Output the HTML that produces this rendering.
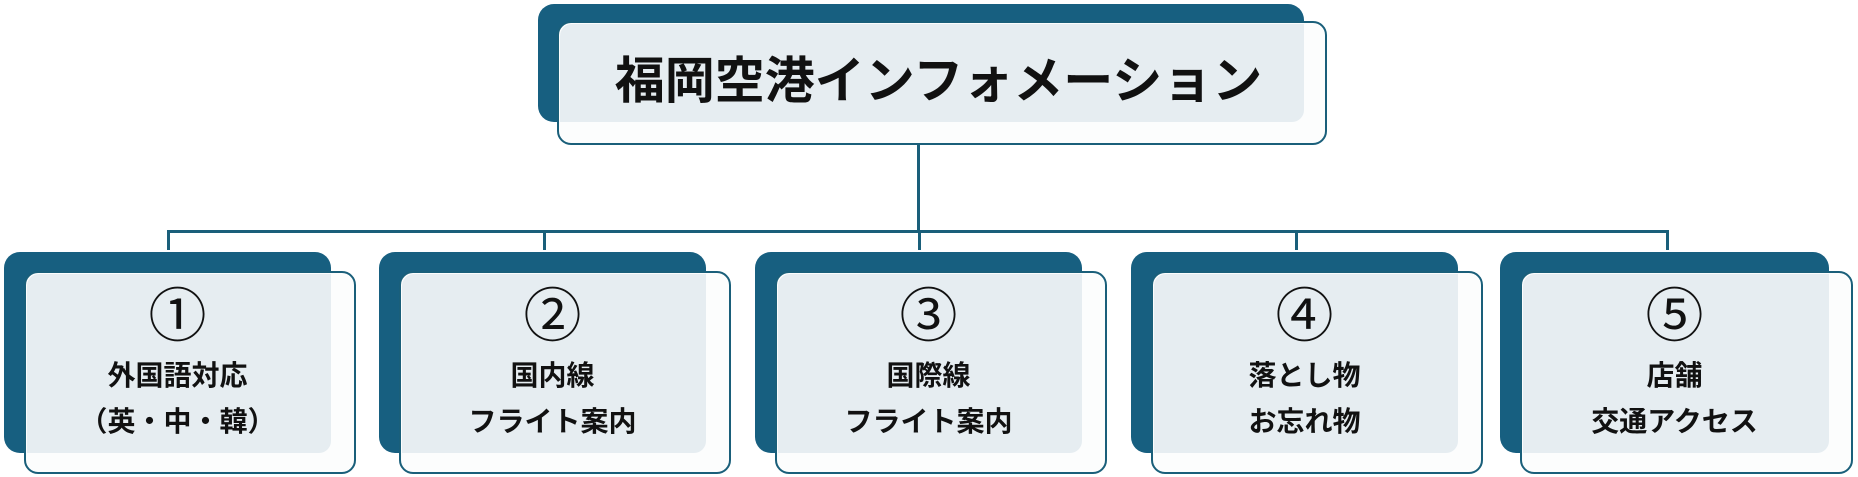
<!DOCTYPE html>
<html><head><meta charset="utf-8"><style>
body{margin:0;width:1858px;height:477px;background:#fff;position:relative;overflow:hidden;font-family:"Liberation Sans","Noto Sans CJK JP",sans-serif;}
.d{position:absolute;background:#175f80;border-radius:16px;}
.l{position:absolute;background:#fcfdfd;border:2.5px solid #1a5f7a;border-radius:14px;box-sizing:border-box;}
.f{position:absolute;background:#e6edf1;border-radius:12px;}
.t{position:absolute;text-align:center;font-weight:bold;color:#111;}
.n{position:absolute;text-align:center;color:#111;font-size:58px;line-height:64px;top:285px;}
.s{position:absolute;text-align:center;font-weight:bold;color:#111;font-size:28px;line-height:46px;top:353px;}
.ln{position:absolute;background:#1a5f7a;}
</style></head><body>
<div class="ln" style="left:917px;top:144px;width:3px;height:88px"></div>
<div class="ln" style="left:168px;top:230px;width:1500px;height:2.5px"></div>
<div class="ln" style="left:167px;top:230px;width:2.5px;height:20px"></div>
<div class="ln" style="left:543px;top:230px;width:2.5px;height:20px"></div>
<div class="ln" style="left:918px;top:230px;width:2.5px;height:20px"></div>
<div class="ln" style="left:1295px;top:230px;width:2.5px;height:20px"></div>
<div class="ln" style="left:1666px;top:230px;width:2.5px;height:20px"></div>

<div class="d" style="left:538px;top:4px;width:766px;height:118px"></div>
<div class="l" style="left:557px;top:21px;width:770px;height:124px"></div>
<div class="f" style="left:560px;top:24px;width:744px;height:98px;border-radius:12px 0 12px 0"></div>
<div class="t" style="left:565px;top:52px;width:747px;font-size:50px;line-height:58px">福岡空港インフォメーション</div>

<div class="d" style="left:4px;top:252px;width:327px;height:201px"></div>
<div class="l" style="left:24px;top:271px;width:332px;height:203px"></div>
<div class="f" style="left:27px;top:274px;width:304px;height:179px;border-radius:12px 0 12px 0"></div>
<div class="n" style="left:24px;width:307px">①</div>
<div class="s" style="left:24px;width:307px">外国語対応<br>（英・中・韓）</div>

<div class="d" style="left:379px;top:252px;width:327px;height:201px"></div>
<div class="l" style="left:399px;top:271px;width:332px;height:203px"></div>
<div class="f" style="left:402px;top:274px;width:304px;height:179px;border-radius:12px 0 12px 0"></div>
<div class="n" style="left:399px;width:307px">②</div>
<div class="s" style="left:399px;width:307px">国内線<br>フライト案内</div>

<div class="d" style="left:755px;top:252px;width:327px;height:201px"></div>
<div class="l" style="left:775px;top:271px;width:332px;height:203px"></div>
<div class="f" style="left:778px;top:274px;width:304px;height:179px;border-radius:12px 0 12px 0"></div>
<div class="n" style="left:775px;width:307px">③</div>
<div class="s" style="left:775px;width:307px">国際線<br>フライト案内</div>

<div class="d" style="left:1131px;top:252px;width:327px;height:201px"></div>
<div class="l" style="left:1151px;top:271px;width:332px;height:203px"></div>
<div class="f" style="left:1154px;top:274px;width:304px;height:179px;border-radius:12px 0 12px 0"></div>
<div class="n" style="left:1151px;width:307px">④</div>
<div class="s" style="left:1151px;width:307px">落とし物<br>お忘れ物</div>

<div class="d" style="left:1500px;top:252px;width:329px;height:201px"></div>
<div class="l" style="left:1520px;top:271px;width:333px;height:203px"></div>
<div class="f" style="left:1523px;top:274px;width:306px;height:179px;border-radius:12px 0 12px 0"></div>
<div class="n" style="left:1520px;width:309px">⑤</div>
<div class="s" style="left:1520px;width:309px">店舗<br>交通アクセス</div>
</body></html>
